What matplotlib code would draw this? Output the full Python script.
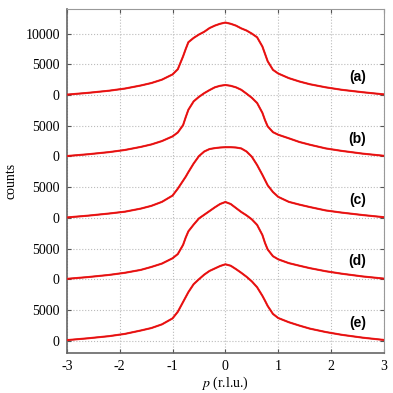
import matplotlib
matplotlib.use('Agg')
import matplotlib.pyplot as plt

plt.rcParams['axes.unicode_minus'] = False
plt.rcParams['mathtext.fontset'] = 'stix'

# momentum grid (r.l.u.)
p = [-3.0, -2.6, -2.2, -1.9, -1.6, -1.4, -1.2, -1.0, -0.9, -0.8, -0.75, -0.7,
     -0.6, -0.5, -0.4, -0.3, -0.2, -0.1, 0.0, 0.1, 0.2, 0.3, 0.4, 0.5, 0.6,
     0.7, 0.75, 0.8, 0.9, 1.0, 1.2, 1.4, 1.6, 1.9, 2.2, 2.6, 3.0]

counts_a = [60, 350, 700, 1050, 1550, 1950, 2500, 3350, 4200, 6300, 7500, 8600,
            9300, 9850, 10300, 10900, 11300, 11600, 11800, 11600, 11300, 10850, 10500, 10000, 9400,
            7900, 6700, 5500, 4100, 3500, 2750, 2200, 1750, 1250, 850, 450, 100]
counts_b = [60, 350, 700, 1050, 1550, 1950, 2500, 3260, 3900, 5100, 6400, 7600,
            8970, 9700, 10300, 10800, 11250, 11500, 11630, 11500, 11250, 10850, 10220, 9550, 8700,
            7100, 5900, 4900, 3950, 3530, 2950, 2350, 1900, 1300, 900, 450, 100]
counts_c = [60, 350, 700, 1000, 1500, 1950, 2600, 3620, 4750, 6050, 6700, 7450,
            8850, 10050, 10800, 11200, 11350, 11450, 11500, 11500, 11450, 11300, 10800, 9950, 8600,
            7000, 6150, 5300, 4200, 3410, 2600, 2150, 1750, 1200, 850, 450, 100]
counts_d = [60, 350, 700, 1050, 1520, 2000, 2550, 3410, 4100, 5600, 6800, 7800,
            8900, 9900, 10500, 11100, 11700, 12250, 12580, 12250, 11600, 10950, 10400, 9750, 8850,
            7200, 5900, 4850, 3750, 3240, 2620, 2200, 1800, 1300, 900, 450, 100]
counts_e = [80, 380, 730, 1100, 1650, 2050, 2650, 3620, 4700, 6300, 7100, 7900,
            9200, 10000, 10750, 11350, 11750, 12150, 12430, 12200, 11650, 11050, 10400, 9650, 8700,
            7300, 6500, 5650, 4350, 3680, 3000, 2450, 1950, 1400, 950, 480, 110]

labels = ['(a)', '(b)', '(c)', '(d)', '(e)']
offsets = [40000, 30000, 20000, 10000, 0]
series = [counts_a, counts_b, counts_c, counts_d, counts_e]

ytick_pos = list(range(0, 55000, 5000))
ytick_lab = ['0', '5000'] * 5 + ['10000']

fig = plt.figure(figsize=(3.93, 3.93), dpi=100)
ax = fig.add_axes([0.170, 0.102, 0.807, 0.875])

for lab, off, ys in zip(labels, offsets, series):
    yy = [v + off for v in ys]
    ax.plot(p, yy, color='black', lw=0.9, zorder=2)
    ax.plot(p, yy, color='#ff1010', lw=1.5, alpha=0.9, zorder=3)
    ax.text(2.5, off + 2900, lab, fontsize=10, fontweight='bold',
            family='Liberation Sans', ha='center', va='center')

ax.set_xlim(-3, 3)
ax.set_ylim(-2000, 54000)
ax.set_xticks([-3, -2, -1, 0, 1, 2, 3])
ax.set_yticks(ytick_pos)
ax.set_yticklabels(ytick_lab)
ax.grid(True, color='#bbbbbb', linestyle=':', linewidth=0.8)
ax.set_axisbelow(True)

for lbl in ax.get_xticklabels() + ax.get_yticklabels():
    lbl.set_family('Liberation Serif')
    lbl.set_fontsize(10)
ax.tick_params(direction='in', length=3, color='#555555', top=True, right=True, pad=5)

for side in ['top', 'right']:
    ax.spines[side].set_color('#999999')
    ax.spines[side].set_linewidth(0.8)
for side in ['left', 'bottom']:
    ax.spines[side].set_color('#666666')
    ax.spines[side].set_linewidth(1.2)

ax.set_ylabel('counts', family='Liberation Serif', fontsize=10, labelpad=6)
ax.set_xlabel('$p$ (r.l.u.)', family='Liberation Serif', fontsize=10, labelpad=1)

fig.savefig('out.png', dpi=100)
